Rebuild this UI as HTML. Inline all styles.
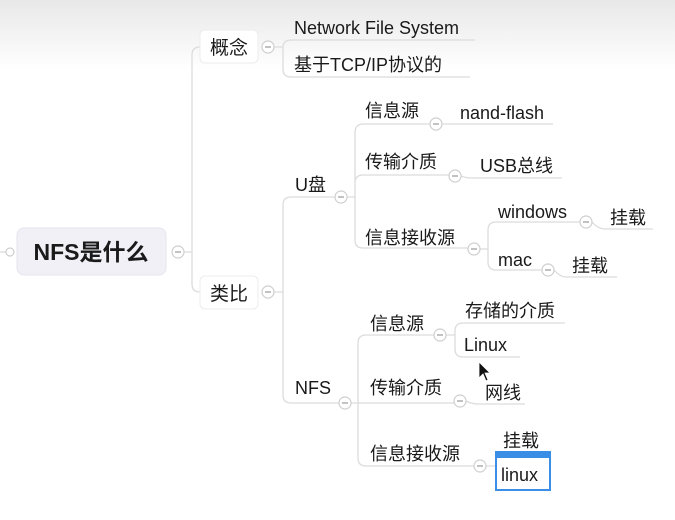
<!DOCTYPE html>
<html><head><meta charset="utf-8"><style>
html,body{margin:0;padding:0;width:675px;height:520px;overflow:hidden;background:#fff}
svg{display:block}
text{font-family:"Liberation Sans","Noto Sans CJK SC",sans-serif;fill:#1a1a1a;font-size:18px}
</style></head><body>
<svg width="675" height="520" viewBox="0 0 675 520">
<defs><linearGradient id="g" x1="0" y1="0" x2="0" y2="1"><stop offset="0" stop-color="#e8e8e8"/><stop offset="1" stop-color="#fff"/></linearGradient></defs>
<rect width="675" height="520" fill="#fff"/>
<rect width="675" height="70" fill="url(#g)"/>
<g fill="none" stroke="#dcdcdc" stroke-width="1.3">
<line x1="0" y1="252" x2="6" y2="252"/>
<path d="M184 252H192M192 252V55Q192 47 200 47M192 252V284Q192 292 200 292"/>
<path d="M274 47H283M283 47V48Q283 40 291 40H475M283 47V69Q283 77 291 77H470"/>
<path d="M274 292H283M283 292V205Q283 197 291 197H335M283 292V395Q283 403 291 403H339"/>
<path d="M347 197H355M355 197V133Q355 124 363 124H430M355 197V183Q355 175 363 175H449M355 197V240Q355 248 363 248H468"/>
<path d="M442 124H553M461 176Q466 178 472 178H562"/>
<path d="M480 249H488M488 249V230Q488 222 496 222H580M488 249V262Q488 270 496 270H542"/>
<path d="M592 222Q598 229 605 229H653M554 270Q560 277 566 277H617"/>
<path d="M351 403H358M358 403V343Q358 335 366 335H434M358 403H454M358 403V458Q358 466 366 466H474"/>
<path d="M446 335H455M455 335V331Q455 323 463 323H565M455 335V349Q455 357 463 357H520"/>
<path d="M466 401Q472 404 478 404H525"/>
<path d="M486 466H496"/>
</g>
<rect x="17" y="228" width="149" height="47" rx="7" fill="#f1f0f7" stroke="#e6e5ee"/>
<text x="91" y="260" text-anchor="middle" style="font-size:23px;font-weight:bold">NFS是什么</text>
<rect x="200" y="30" width="58" height="33" rx="5" fill="#fff" stroke="#ececec"/>
<rect x="200" y="276" width="58" height="33" rx="5" fill="#fff" stroke="#ececec"/>
<text x="229" y="54" text-anchor="middle" style="font-size:19px">概念</text>
<text x="229" y="300" text-anchor="middle" style="font-size:19px">类比</text>
<g fill="#fff" stroke="#cfcfcf" stroke-width="1.2">
<circle cx="10" cy="252" r="4"/>
<circle cx="178" cy="252" r="6"/><circle cx="268" cy="47" r="6"/><circle cx="268" cy="292" r="6"/>
<circle cx="341" cy="197" r="6"/><circle cx="345" cy="403" r="6"/>
<circle cx="436" cy="124" r="6"/><circle cx="455" cy="176" r="6"/><circle cx="474" cy="249" r="6"/>
<circle cx="586" cy="222" r="6"/><circle cx="548" cy="270" r="6"/>
<circle cx="440" cy="335" r="6"/><circle cx="460" cy="401" r="6"/><circle cx="480" cy="466" r="6"/>
</g>
<g stroke="#999" stroke-width="1.2">
<line x1="175" y1="252" x2="181" y2="252"/><line x1="265" y1="47" x2="271" y2="47"/><line x1="265" y1="292" x2="271" y2="292"/>
<line x1="338" y1="197" x2="344" y2="197"/><line x1="342" y1="403" x2="348" y2="403"/>
<line x1="433" y1="124" x2="439" y2="124"/><line x1="452" y1="176" x2="458" y2="176"/><line x1="471" y1="249" x2="477" y2="249"/>
<line x1="583" y1="222" x2="589" y2="222"/><line x1="545" y1="270" x2="551" y2="270"/>
<line x1="437" y1="335" x2="443" y2="335"/><line x1="457" y1="401" x2="463" y2="401"/><line x1="477" y1="466" x2="483" y2="466"/>
</g>
<text x="294" y="34">Network File System</text>
<text x="294" y="71">基于TCP/IP协议的</text>
<text x="295" y="191">U盘</text>
<text x="365" y="117">信息源</text>
<text x="460" y="119">nand-flash</text>
<text x="365" y="168">传输介质</text>
<text x="480" y="172">USB总线</text>
<text x="365" y="244">信息接收源</text>
<text x="498" y="218">windows</text>
<text x="610" y="224">挂载</text>
<text x="498" y="266">mac</text>
<text x="572" y="272">挂载</text>
<text x="295" y="394">NFS</text>
<text x="370" y="330">信息源</text>
<text x="465" y="317">存储的介质</text>
<text x="464" y="351">Linux</text>
<text x="370" y="394">传输介质</text>
<text x="485" y="399">网线</text>
<text x="370" y="460">信息接收源</text>
<text x="503" y="447">挂载</text>
<rect x="496" y="452" width="54" height="38" fill="#fff" stroke="#3a8ee6" stroke-width="2"/>
<rect x="496" y="452" width="54" height="6" fill="#3a8ee6"/>
<text x="501" y="481">linux</text>
<path d="M479 362L479 378L483 374L486 381L488 380L485 373L490 373Z" fill="#111" stroke="#fff" stroke-width="0.8"/>
</svg>
</body></html>
